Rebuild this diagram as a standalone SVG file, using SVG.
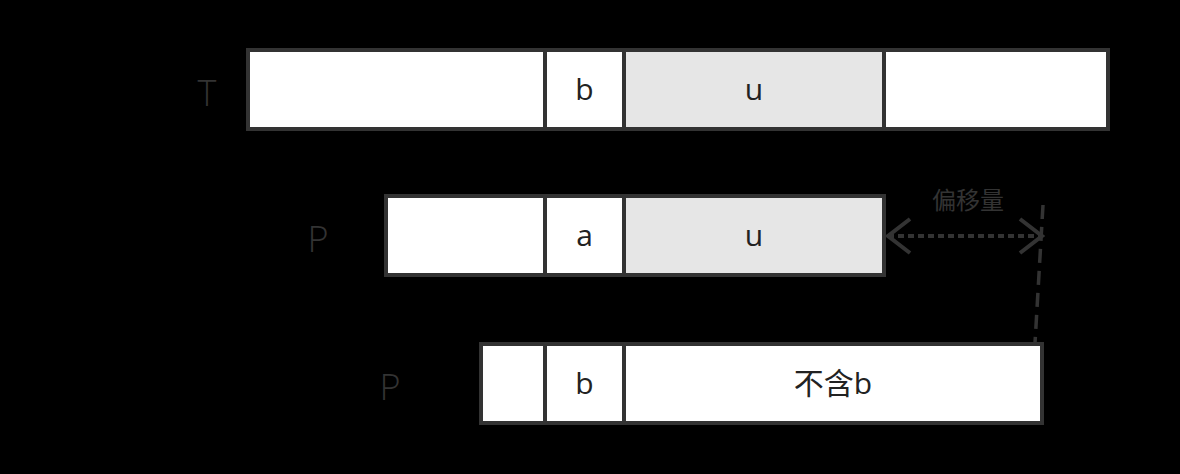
<svg xmlns="http://www.w3.org/2000/svg" width="1180" height="474" viewBox="0 0 1180 474">
<defs>
<style>
.cell{fill:#ffffff;stroke:#333333;stroke-width:4}
.gray{fill:#e6e6e6;stroke:#333333;stroke-width:4}
.lbl{font-family:"Open Sans","Noto Sans CJK SC",sans-serif;font-size:36px;fill:#333333;text-anchor:middle;font-weight:300}
.ct{font-family:"Open Sans","Noto Sans CJK SC",sans-serif;font-size:30px;fill:#222222;text-anchor:middle}
.note{font-family:"Noto Sans CJK SC",sans-serif;font-size:24px;fill:#333333;text-anchor:middle}
</style>
<marker id="chev" viewBox="0 0 28 40" refX="25" refY="20" markerWidth="28" markerHeight="40" markerUnits="userSpaceOnUse" orient="auto-start-reverse">
<path d="M3,3 L25,20 L3,37" fill="none" stroke="#333333" stroke-width="4"/>
</marker>
</defs>
<rect x="0" y="0" width="1180" height="474" fill="#000000"/>
<g id="T">
<text class="lbl" x="207" y="106">T</text>
<rect class="cell" x="248" y="50" width="297" height="79"/>
<rect class="cell" x="545" y="50" width="79" height="79"/>
<rect class="gray" x="624" y="50" width="260" height="79"/>
<rect class="cell" x="884" y="50" width="224" height="79"/>
<text class="ct" x="584.5" y="100">b</text>
<text class="ct" x="754" y="100">u</text>
</g>
<g id="P1">
<text class="lbl" x="318" y="252">P</text>
<rect class="cell" x="386" y="196" width="159" height="79"/>
<rect class="cell" x="545" y="196" width="79" height="79"/>
<rect class="gray" x="624" y="196" width="260" height="79"/>
<text class="ct" x="584.5" y="246">a</text>
<text class="ct" x="754" y="246">u</text>
</g>
<g id="P2">
<text class="lbl" x="390" y="400">P</text>
<rect class="cell" x="481" y="344" width="64" height="79"/>
<rect class="cell" x="545" y="344" width="79" height="79"/>
<rect class="cell" x="624" y="344" width="418" height="79"/>
<text class="ct" x="584.5" y="394">b</text>
<text class="ct" x="833" y="394">不含b</text>
</g>
<g id="connectors">
<line x1="888" y1="236" x2="1042" y2="236" stroke="#333333" stroke-width="4" stroke-dasharray="6 4" marker-start="url(#chev)" marker-end="url(#chev)"/>
<line x1="1043" y1="205" x2="1035" y2="343" stroke="#333333" stroke-width="3.5" stroke-dasharray="14 8"/>
<text class="note" x="968" y="209">偏移量</text>
</g>
</svg>
